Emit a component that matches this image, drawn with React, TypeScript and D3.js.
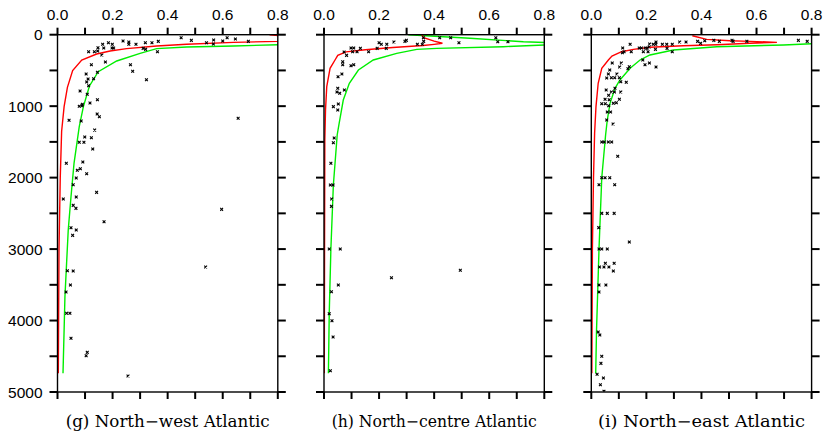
import * as d3 from 'd3';

// observed [value, depth] pairs
const obsNW: [number, number][] = [
  [0.449, 42], [0.486, 79], [0.567, 74], [0.6, 88], [0.616, 42], [0.646, 60], [0.693, 93], [0.541, 112], [0.566, 130],
  [0.238, 88], [0.259, 102], [0.259, 134], [0.285, 134], [0.319, 112], [0.343, 112], [0.366, 93], [0.311, 191],
  [0.32, 205], [0.363, 238], [0.185, 112], [0.164, 134], [0.199, 134], [0.198, 186], [0.204, 186], [0.168, 186],
  [0.147, 182], [0.146, 228], [0.134, 238], [0.113, 238], [0.161, 284], [0.174, 382], [0.123, 420], [0.265, 420],
  [0.273, 512], [0.145, 526], [0.104, 550], [0.111, 620], [0.131, 616], [0.106, 662], [0.113, 714], [0.323, 630],
  [0.082, 788], [0.108, 834], [0.145, 910], [0.09, 974], [0.118, 956], [0.079, 1002], [0.089, 994], [0.144, 1110],
  [0.152, 1148], [0.656, 1170], [0.042, 1198], [0.086, 1208], [0.135, 1335], [0.099, 1432], [0.123, 1441],
  [0.079, 1506], [0.096, 1506], [0.128, 1600], [0.032, 1800], [0.092, 1781], [0.072, 1898], [0.083, 1875],
  [0.106, 1945], [0.068, 2005], [0.057, 2099], [0.142, 2206], [0.021, 2299], [0.068, 2271], [0.057, 2388],
  [0.067, 2430], [0.596, 2444], [0.169, 2617], [0.049, 2701], [0.068, 2733], [0.055, 2808], [0.036, 3303],
  [0.057, 3307], [0.538, 3251], [0.047, 3503], [0.031, 3601], [0.033, 3899], [0.045, 3899], [0.049, 4249],
  [0.108, 4445], [0.104, 4492], [0.256, 4776],
];
const obsNC: [number, number][] = [
  [0.361, 42], [0.42, 42], [0.46, 42], [0.624, 42], [0.362, 93], [0.299, 79], [0.294, 93], [0.254, 102], [0.2, 112],
  [0.208, 134], [0.228, 134], [0.226, 191], [0.193, 191], [0.339, 134], [0.357, 134], [0.49, 112], [0.631, 98],
  [0.668, 98], [0.098, 186], [0.108, 186], [0.132, 191], [0.104, 238], [0.12, 238], [0.073, 242], [0.162, 238],
  [0.082, 289], [0.068, 378], [0.068, 420], [0.098, 434], [0.108, 420], [0.065, 550], [0.051, 588], [0.05, 750],
  [0.074, 774], [0.047, 802], [0.057, 820], [0.052, 970], [0.034, 1007], [0.05, 1054], [0.037, 1445], [0.034, 1511],
  [0.025, 1800], [0.023, 2103], [0.033, 2103], [0.028, 2299], [0.027, 2402], [0.019, 2999], [0.059, 2999],
  [0.495, 3297], [0.245, 3400], [0.052, 3503], [0.027, 3596], [0.019, 3904], [0.029, 4002], [0.033, 4230],
  [0.023, 4702],
];
const obsNE: [number, number][] = [
  [0.386, 93], [0.397, 121], [0.412, 84], [0.445, 79], [0.465, 93], [0.511, 79], [0.515, 93], [0.565, 93],
  [0.752, 79], [0.784, 93], [0.321, 102], [0.344, 102], [0.294, 134], [0.294, 238], [0.274, 134], [0.258, 134],
  [0.275, 191], [0.235, 102], [0.225, 134], [0.212, 130], [0.234, 134], [0.233, 205], [0.21, 172], [0.202, 191],
  [0.196, 186], [0.206, 238], [0.189, 238], [0.174, 186], [0.182, 186], [0.141, 134], [0.145, 238], [0.119, 238],
  [0.113, 252], [0.114, 186], [0.187, 354], [0.195, 420], [0.211, 396], [0.235, 452], [0.076, 396], [0.109, 396],
  [0.103, 452], [0.138, 448], [0.133, 476], [0.067, 494], [0.062, 550], [0.093, 550], [0.102, 602], [0.085, 602],
  [0.073, 602], [0.056, 606], [0.127, 666], [0.107, 658], [0.086, 750], [0.054, 774], [0.073, 802], [0.084, 802],
  [0.107, 802], [0.063, 848], [0.05, 904], [0.102, 904], [0.065, 910], [0.091, 952], [0.038, 966], [0.051, 966],
  [0.063, 994], [0.08, 960], [0.058, 1082], [0.07, 1082], [0.056, 1194], [0.079, 1250], [0.038, 1502],
  [0.047, 1502], [0.062, 1502], [0.074, 1502], [0.096, 1702], [0.038, 2001], [0.05, 2001], [0.067, 2001],
  [0.028, 2099], [0.085, 2099], [0.038, 2500], [0.058, 2500], [0.083, 2500], [0.027, 2700], [0.138, 2901],
  [0.028, 2999], [0.038, 2999], [0.058, 2999], [0.03, 3251], [0.046, 3251], [0.064, 3251], [0.051, 3199],
  [0.083, 3199], [0.08, 3307], [0.028, 3503], [0.053, 3503], [0.028, 3601], [0.025, 4161], [0.031, 4203],
  [0.038, 4500], [0.035, 4599], [0.021, 4752], [0.044, 4804], [0.033, 4898], [0.046, 4990],
];

// model profiles [value, depth]
const redNW: [number, number][] = [
  [0.77, 0], [0.88, 40], [0.8, 93], [0.639, 107], [0.469, 134], [0.36, 158], [0.251, 195], [0.191, 228],
  [0.142, 270], [0.088, 354], [0.055, 503], [0.036, 736], [0.024, 1007], [0.015, 1350], [0.01, 2000],
  [0.0055, 3000], [0.004, 4000], [0.003, 4738],
];
const greenNW: [number, number][] = [
  [0.95, 0], [0.95, 120], [0.8, 140], [0.639, 158], [0.469, 172], [0.36, 195], [0.3, 261], [0.215, 368],
  [0.148, 517], [0.116, 718], [0.094, 1007], [0.079, 1287], [0.06, 1800], [0.049, 2267], [0.039, 2733],
  [0.033, 3199], [0.027, 3666], [0.024, 4133], [0.02, 4738],
];
const redNC: [number, number][] = [
  [0.355, 0], [0.362, 40], [0.4, 90], [0.43, 120], [0.4, 135], [0.36, 152], [0.25, 180], [0.15, 210],
  [0.08, 240], [0.05, 290], [0.04, 354], [0.022, 470], [0.01, 727], [0.0055, 1054], [0.003, 1470],
  [0.002, 3000], [0.001, 4738],
];
const greenNC: [number, number][] = [
  [0.306, 0], [0.53, 50], [0.724, 98], [0.9, 125], [0.8, 144], [0.651, 168], [0.409, 191], [0.337, 205],
  [0.264, 261], [0.179, 354], [0.125, 494], [0.092, 680], [0.07, 914], [0.055, 1240], [0.048, 1400],
  [0.034, 2103], [0.025, 2999], [0.019, 3904], [0.016, 4738],
];
const redNE: [number, number][] = [
  [0.367, 14], [0.419, 65], [0.504, 84], [0.577, 93], [0.674, 107], [0.576, 120], [0.456, 140], [0.334, 155],
  [0.213, 176], [0.153, 205], [0.11, 238], [0.075, 300], [0.062, 354], [0.038, 470], [0.025, 680],
  [0.017, 1007], [0.012, 1380], [0.008, 2000], [0.004, 3000], [0.002, 4738],
];
const greenNE: [number, number][] = [
  [0.95, 0], [0.95, 110], [0.8, 126], [0.698, 144], [0.456, 168], [0.298, 214], [0.213, 284], [0.177, 354],
  [0.141, 470], [0.104, 634], [0.086, 750], [0.068, 960], [0.058, 1194], [0.052, 1400], [0.038, 2001],
  [0.028, 2999], [0.019, 4133], [0.016, 4738],
];

const titles = ['(g) North\u2212west Atlantic', '(h) North\u2212centre Atlantic', '(i) North\u2212east Atlantic'];
const titleWidths = [204, 205, 207];
const xTickLabels = [0, 0.2, 0.4, 0.6, 0.8];
const depthLabels = [0, 1000, 2000, 3000, 4000, 5000];

const panels = [
  { obs: obsNW, red: redNW, green: greenNW },
  { obs: obsNC, red: redNC, green: greenNC },
  { obs: obsNE, red: redNE, green: greenNE },
];

const lefts = [57.5, 324, 591.3];
const W = 220.3;
const top = 34.7;
const bottom = 392;

function Panel({ idx }: { idx: number }) {
  const p = panels[idx];
  const x0 = lefts[idx];
  const x = d3.scaleLinear().domain([0, 0.8]).range([x0, x0 + W]);
  const y = d3.scaleLinear().domain([0, 5000]).range([top, bottom]);
  const line = d3.line<[number, number]>().x((d) => x(d[0])).y((d) => y(d[1]));
  const xt = d3.range(0, 9).map((i) => i / 10);
  const yt = d3.range(0, 11).map((i) => i * 500);
  const clipId = `clip${idx}`;
  return (
    <g>
      <clipPath id={clipId}>
        <rect x={x0} y={top} width={W} height={bottom - top} />
      </clipPath>
      <g clipPath={`url(#${clipId})`}>
        <path d={line(p.green) || ''} fill="none" stroke="#00ee00" strokeWidth={1.4} />
        <path d={line(p.red) || ''} fill="none" stroke="#ff0000" strokeWidth={1.4} />
        {p.obs.map((d, i) => {
          const cx = x(d[0]);
          const cy = y(d[1]);
          const s = 1.4;
          return (
            <path
              key={i}
              d={`M${cx - s},${cy - s}L${cx + s},${cy + s}M${cx - s},${cy + s}L${cx + s},${cy - s}`}
              stroke="#000"
              strokeWidth={1.1}
            />
          );
        })}
      </g>
      <rect x={x0} y={top} width={W} height={bottom - top} fill="none" stroke="#000" strokeWidth={1.4} />
      {xt.map((t) => (
        <g key={t}>
          <line x1={x(t)} x2={x(t)} y1={top} y2={top - 7} stroke="#000" strokeWidth={2} />
          <line x1={x(t)} x2={x(t)} y1={bottom} y2={bottom + 7} stroke="#000" strokeWidth={2} />
        </g>
      ))}
      {yt.map((t) => (
        <g key={t}>
          <line x1={x0} x2={x0 - 8} y1={y(t)} y2={y(t)} stroke="#000" strokeWidth={2} />
          <line x1={x0 + W} x2={x0 + W + 8} y1={y(t)} y2={y(t)} stroke="#000" strokeWidth={2} />
        </g>
      ))}
      {xTickLabels.map((t) => (
        <text key={t} x={x(t)} y={top - 15} textAnchor="middle" fontSize={15.5} fontFamily="Liberation Sans, Arial, sans-serif">
          {t.toFixed(1)}
        </text>
      ))}
      {idx === 0 &&
        depthLabels.map((t) => (
          <text key={t} x={x0 - 15} y={y(t)} dy="0.36em" textAnchor="end" fontSize={15.5} fontFamily="Liberation Sans, Arial, sans-serif">
            {t}
          </text>
        ))}
      <text
        x={x0 + W / 2}
        y={427}
        textAnchor="middle"
        fontSize={16}
        fontFamily="DejaVu Serif, serif"
        textLength={titleWidths[idx]}
        lengthAdjust="spacingAndGlyphs"
      >
        {titles[idx]}
      </text>
    </g>
  );
}

export default function App() {
  return (
    <svg
      width={824}
      height={431}
      style={{ position: 'absolute', left: 0, top: 0, background: '#fff' }}
    >
      <rect width={824} height={431} fill="#fff" />
      {[0, 1, 2].map((i) => (
        <Panel key={i} idx={i} />
      ))}
    </svg>
  );
}
